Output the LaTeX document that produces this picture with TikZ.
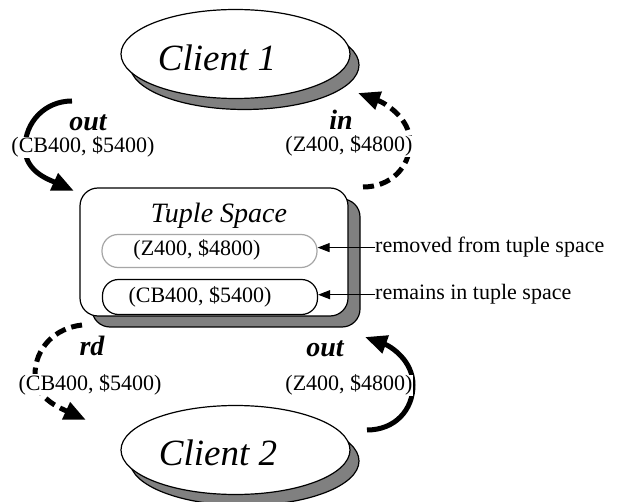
\documentclass[tikz,border=0pt]{standalone}
\usepackage{fontspec}
\setmainfont{Liberation Serif}
\usetikzlibrary{shapes.geometric,shadows,arrows.meta}

\begin{document}
\begin{tikzpicture}[x=1pt,y=-1pt,
    client/.style={ellipse,draw,line width=1.2pt,fill=white,inner sep=0pt,
      minimum width=229pt,minimum height=89pt,
      copy shadow={shadow xshift=9pt,shadow yshift=-11pt,fill=gray,draw=black,line width=1.2pt}},
    space/.style={rectangle,draw,line width=1.2pt,fill=white,rounded corners=18pt,inner sep=0pt,
      minimum width=268pt,minimum height=128pt,
      copy shadow={shadow xshift=12pt,shadow yshift=-11pt,fill=gray,draw=black,line width=1.2pt}},
    tuple/.style={rectangle,draw,line width=1.2pt,rounded corners=16pt,inner sep=0pt,
      minimum width=215pt,minimum height=33pt},
    big/.style={anchor=base,inner sep=0pt,font=\fontsize{37}{40}\selectfont\itshape},
    oplbl/.style={anchor=base,inner sep=0pt,font=\fontsize{28}{30}\selectfont\bfseries\itshape},
    data/.style={anchor=base,inner sep=0pt,font=\fontsize{22}{24}\selectfont},
    cover/.style={data,fill=white,inner sep=0.5pt},
    oparr/.style={line width=5pt,-{Triangle[length=22pt,width=18pt]}},
    opdash/.style={oparr,dash pattern=on 11pt off 6pt},
    ptr/.style={line width=1pt,-{Triangle[length=12pt,width=9pt]}}]
  \useasboundingbox (0,0) rectangle (621,502);

  \node[client] (client1) at (235.5,54) {};
  \node[big] (c1lbl) at (217,71) {Client 1};
  \node[client] (client2) at (235.5,450) {};
  \node[big] (c2lbl) at (218,465) {Client 2};

  \node[space] (ts) at (214,252) {};
  \node[big,font=\fontsize{28}{30}\selectfont\itshape] (tslbl) at (219,223) {Tuple Space};
  \node[tuple,draw=gray!70] (z400) at (209.5,251) {};
  \node[data] (z400lbl) at (197,256) {(Z400, \$4800)};
  \node[tuple,minimum height=35pt] (cb400) at (210,297) {};
  \node[data] (cb400lbl) at (200,303) {(CB400, \$5400)};

  \node[data,anchor=base west] (rmlbl) at (375,253) {removed from tuple space};
  \node[data,anchor=base west] (kplbl) at (375,300) {remains in tuple space};
  \draw[ptr] (rmlbl.west) -- (rmlbl.west -| z400.east);
  \draw[ptr] (kplbl.west) -- (kplbl.west -| cb400.east);

  \coordinate (o1s) at (72,101); \coordinate (o1m) at (25,148); \coordinate (o1e) at (74,191);
  \coordinate (i1s) at (363,187); \coordinate (i1m) at (410,142); \coordinate (i1e) at (358,93);
  \coordinate (r2s) at (82,325); \coordinate (r2m) at (35,375); \coordinate (r2e) at (86,420);
  \coordinate (o2s) at (367,430); \coordinate (o2m) at (413,385); \coordinate (o2e) at (365,337);

  \draw[oparr] (o1s) .. controls (45,101) and (25,122) .. (o1m)
    .. controls (25,172) and (50,180) .. (o1e);
  \draw[opdash] (i1s) .. controls (390,187) and (410,168) .. (i1m)
    .. controls (410,118) and (385,103) .. (i1e);
  \draw[opdash] (r2s) .. controls (55,328) and (35,348) .. (r2m)
    .. controls (35,398) and (60,408) .. (r2e);
  \draw[oparr] (o2s) .. controls (395,430) and (413,410) .. (o2m)
    .. controls (413,360) and (390,346) .. (o2e);

  \node[oplbl] (out1) at (88,131) {out};
  \node[cover] (out1d) at (83,153) {(CB400, \$5400)};
  \node[oplbl] (in1) at (341,130) {in};
  \node[cover] (in1d) at (349,152) {(Z400, \$4800)};
  \node[oplbl] (rd2) at (92,356) {rd};
  \node[cover] (rd2d) at (90,390) {(CB400, \$5400)};
  \node[oplbl] (out2) at (325,357) {out};
  \node[cover] (out2d) at (349,391) {(Z400, \$4800)};
\end{tikzpicture}
\end{document}
